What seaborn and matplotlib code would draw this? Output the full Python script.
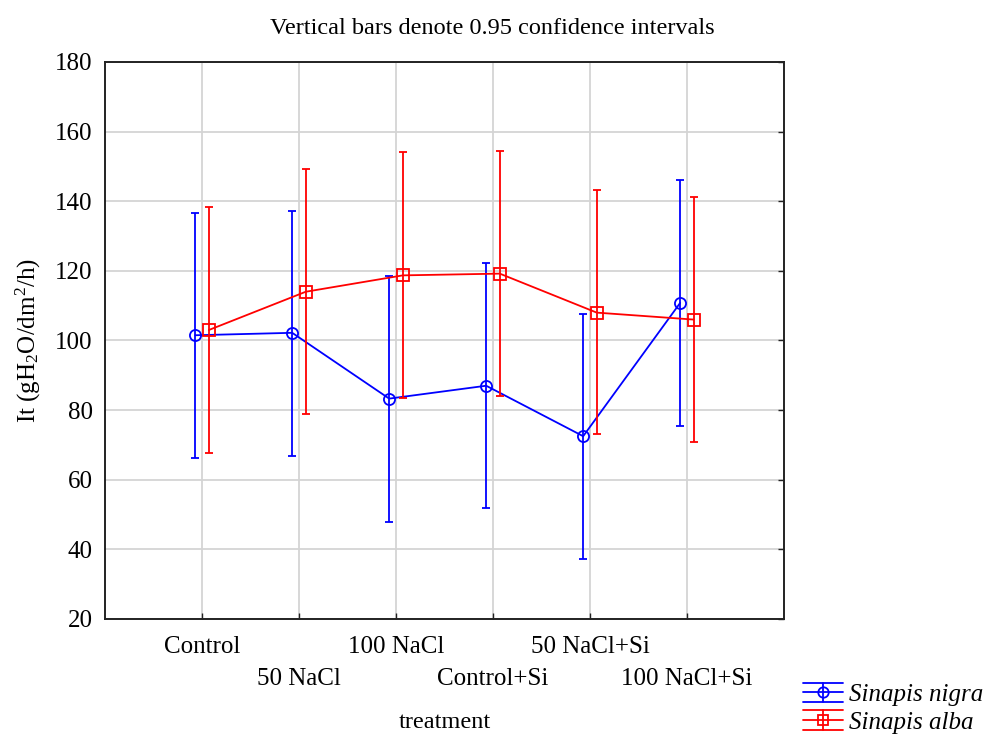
import numpy as np
import pandas as pd
import seaborn as sns
import matplotlib
matplotlib.use("Agg")
from matplotlib import pyplot as plt
from matplotlib.legend_handler import HandlerBase

# data
treatments = ["Control", "50 NaCl", "100 NaCl", "Control+Si", "50 NaCl+Si", "100 NaCl+Si"]
nigra_mean = [101.5, 102.2, 83.3, 87.0, 72.5, 110.8]
nigra_lo = [66.2, 66.8, 48.0, 52.0, 37.3, 75.5]
nigra_hi = [136.7, 137.3, 118.5, 122.3, 107.7, 146.0]
alba_mean = [103.0, 114.0, 118.7, 119.2, 108.0, 106.0]
alba_lo = [67.8, 78.8, 83.5, 84.0, 73.0, 70.8]
alba_hi = [138.2, 149.2, 154.0, 154.5, 143.2, 141.2]

series = [
    ("Sinapis nigra", nigra_mean, nigra_lo, nigra_hi, "#0000ff", "o", -0.07),
    ("Sinapis alba", alba_mean, alba_lo, alba_hi, "#ff0000", "s", 0.07),
]


class StatHandler(HandlerBase):
    # statistica-like key: three horizontal lines, a vertical bar and the marker
    def create_artists(self, legend, orig, xd, yd, w, h, fs, trans):
        col, mk = orig.get_color(), orig.get_marker()
        cx, cy = w / 2 - xd, h / 2 - yd
        art = []
        for yy in (cy - h * 0.55, cy, cy + h * 0.55):
            art.append(plt.Line2D([-xd, w - xd], [yy, yy], color=col, lw=1.3))
        art.append(plt.Line2D([cx, cx], [cy - h * 0.55, cy + h * 0.55], color=col, lw=1.3))
        art.append(plt.Line2D([cx], [cy], marker=mk, markersize=7.5, color=col,
                              markerfacecolor="none", markeredgewidth=1.3))
        for a in art:
            a.set_transform(trans)
        return art


sns.set_style("white")
plt.rcParams["font.family"] = ["Liberation Serif", "DejaVu Serif"]
plt.rcParams["mathtext.default"] = "regular"
plt.rcParams["text.color"] = "black"
plt.rcParams["axes.labelcolor"] = "black"
plt.rcParams["xtick.color"] = "black"
plt.rcParams["ytick.color"] = "black"

fig = plt.figure(figsize=(9.85, 7.36), dpi=100)
ax = fig.add_axes([0.1066, 0.159, 0.6893, 0.7568])

x = np.arange(len(treatments))
handles = []
for name, mean, lo, hi, col, mk, off in series:
    df = pd.DataFrame({"x": x + off, "y": mean})
    sns.lineplot(data=df, x="x", y="y", color=col, lw=1.3, marker=mk,
                 markersize=8, markerfacecolor="none", markeredgecolor=col,
                 markeredgewidth=1.3, ax=ax, legend=False)
    mean = np.array(mean)
    err = [mean - np.array(lo), np.array(hi) - mean]
    ax.errorbar(x + off, mean, yerr=err, fmt="none", ecolor=col,
                elinewidth=1.3, capsize=3, capthick=1.3)
    handles.append(plt.Line2D([], [], color=col, marker=mk))

ax.set_xlim(-1, 6)
ax.set_ylim(20, 180)
ax.set_yticks(range(20, 181, 20))
# staggered category labels: even ones on the first row, odd ones below
ax.set_xticks(x[::2])
ax.set_xticklabels(treatments[::2], fontsize=18)
ax.set_xticks(x[1::2], minor=True)
ax.set_xticklabels(treatments[1::2], minor=True, fontsize=18)
ax.tick_params(axis="y", labelsize=18, pad=9)
ax.tick_params(axis="x", which="major", pad=12)
ax.tick_params(axis="x", which="minor", pad=35)
ax.tick_params(which="both", direction="in", length=4, width=1, color="#222222",
               top=False, right=True, bottom=True, left=False)
ax.grid(True, which="both", color="#d4d4d4", lw=1.3)
for s in ax.spines.values():
    s.set_color("#222222")
    s.set_linewidth(1.4)

ax.set_xlabel("treatment", fontsize=17.5)
ax.xaxis.set_label_coords(0.5, -0.167)
ax.set_ylabel("It (gH$_2$O/dm$^2$/h)", fontsize=18, labelpad=9)
fig.text(0.5, 1 - 28 / 736, "Vertical bars denote 0.95 confidence intervals",
         fontsize=17.5, ha="center", va="center")

fig.legend(handles, [s[0] for s in series], handler_map={plt.Line2D: StatHandler()},
           loc="upper left", bbox_to_anchor=(0.815, 0.071), frameon=False,
           prop={"style": "italic", "size": 18}, handlelength=1.6,
           labelspacing=0.2, borderpad=0, borderaxespad=0, handletextpad=0.25)

fig.savefig("out.png", dpi=100)
